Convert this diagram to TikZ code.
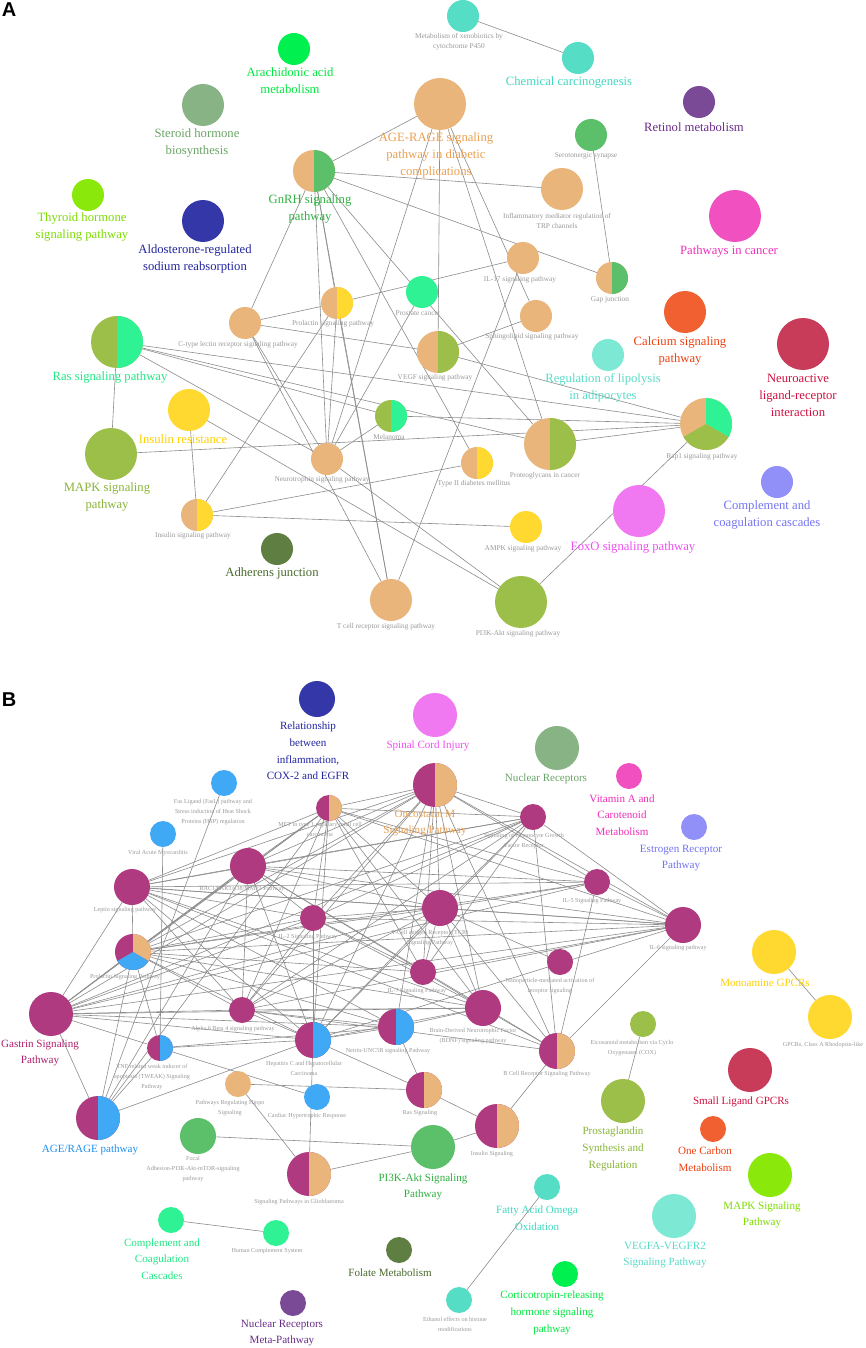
\documentclass[tikz,border=0pt]{standalone}
\usepackage{fontspec}
\setmainfont{Liberation Serif}
\newfontfamily\panelfont{Liberation Sans}
\usetikzlibrary{backgrounds}
% node fills
\definecolor{cTan}{HTML}{E9B57A}
\definecolor{cOlive}{HTML}{9BBF48}
\definecolor{cSpring}{HTML}{2EF294}
\definecolor{cGreen}{HTML}{5CBF6A}
\definecolor{cYellow}{HTML}{FFD92F}
\definecolor{cLime}{HTML}{8BE80B}
\definecolor{cBright}{HTML}{00F050}
\definecolor{cSage}{HTML}{88B384}
\definecolor{cNavy}{HTML}{3437A8}
\definecolor{cTurq}{HTML}{55DDC6}
\definecolor{cAqua}{HTML}{7DE8D4}
\definecolor{cPlum}{HTML}{7B4A96}
\definecolor{cPink}{HTML}{F050C0}
\definecolor{cViolet}{HTML}{F078F0}
\definecolor{cOrange}{HTML}{F06030}
\definecolor{cCrimson}{HTML}{C83C5A}
\definecolor{cPeri}{HTML}{9090F8}
\definecolor{cMoss}{HTML}{5E7E42}
\definecolor{cPurple}{HTML}{B03A80}
\definecolor{cBlue}{HTML}{3FA9F5}
% label colours
\definecolor{tTan}{HTML}{EBA050}
\definecolor{tSpring}{HTML}{20E884}
\definecolor{tGreen}{HTML}{30B040}
\definecolor{tOlive}{HTML}{88B538}
\definecolor{tYellow}{HTML}{FFD000}
\definecolor{tLime}{HTML}{7EDC00}
\definecolor{tBright}{HTML}{00E840}
\definecolor{tSage}{HTML}{6AA466}
\definecolor{tNavy}{HTML}{2225A0}
\definecolor{tTurq}{HTML}{40D8C0}
\definecolor{tAqua}{HTML}{58DCC8}
\definecolor{tPlum}{HTML}{6A2C8A}
\definecolor{tPink}{HTML}{F030B8}
\definecolor{tViolet}{HTML}{F050F0}
\definecolor{tOrange}{HTML}{F04010}
\definecolor{tCrimson}{HTML}{D01040}
\definecolor{tPeri}{HTML}{7474F2}
\definecolor{tMoss}{HTML}{4B6B2E}
\definecolor{tPurple}{HTML}{B0206E}
\definecolor{tBlue}{HTML}{2090F0}
\definecolor{gLabel}{HTML}{999999}
\definecolor{gEdge}{HTML}{8C8C8C}
% slice of a pie node: name, start, end, radius, colour
\newcommand{\pieslice}[5]{\fill[#5] (#1.center) -- ++(#2:#4) arc[start angle=#2, end angle=#3, radius=#4] -- cycle;}

\begin{document}
\begin{tikzpicture}[x=0.75pt, y=-0.75pt]
        % Styles
        \tikzstyle{pw} = [circle, inner sep=0pt, outer sep=0pt, draw=none]
        \tikzstyle{pwS} = [pw, minimum size=24pt]
        \tikzstyle{pwM} = [pw, minimum size=31.5pt]
        \tikzstyle{pwL} = [pw, minimum size=39pt]
        \tikzstyle{pwXS} = [pw, minimum size=19.5pt]
        \tikzstyle{pwBM} = [pw, minimum size=27pt]
        \tikzstyle{pwBL} = [pw, minimum size=33pt]
        \tikzstyle{lblA} = [align=center, inner sep=0pt, font=\fontsize{9.5}{12.75}\selectfont]
        \tikzstyle{smallA} = [align=center, inner sep=0pt, text=gLabel, font=\fontsize{5.5}{7.5}\selectfont]
        \tikzstyle{lblB} = [align=center, inner sep=0pt, font=\fontsize{8.3}{12.5}\selectfont]
        \tikzstyle{smallB} = [align=center, inner sep=0pt, text=gLabel, font=\fontsize{4.6}{7.5}\selectfont]
        \tikzstyle{edge} = [draw=gEdge, line width=0.45pt]
        \tikzstyle{panel} = [inner sep=0pt, font=\panelfont\fontsize{15}{15}\bfseries\selectfont]

        \useasboundingbox (0,0) rectangle (865,1348);

        % Panel A
        \node[panel] (pA) at (9,10) {A};

        \node[pwS, fill=cBright] (arach) at (294,49) {};
        \node[lblA, text=tBright] (t-arach) at (290,81) {Arachidonic acid\\metabolism};
        \node[pwM, fill=cSage] (steroid) at (203,105) {};
        \node[lblA, text=tSage] (t-steroid) at (197,143) {Steroid hormone\\biosynthesis};
        \node[pwS, fill=cLime] (thyroid) at (88,195) {};
        \node[lblA, text=tLime] (t-thyroid) at (82,227) {Thyroid hormone\\signaling pathway};
        \node[pwM, fill=cNavy] (aldo) at (203,221) {};
        \node[lblA, text=tNavy] (t-aldo) at (195,259) {Aldosterone-regulated\\sodium reabsorption};
        \node[pwM, fill=cTan] (gnrh) at (314,171) {};
        \pieslice{gnrh}{90}{-90}{15.75pt}{cGreen}
        \node[lblA, text=tGreen] (t-gnrh) at (310,209) {GnRH signaling\\pathway};
        \node[pwL, fill=cTan] (agerage) at (440,104) {};
        \node[lblA, text=tTan] (t-agerage) at (436,155) {AGE-RAGE signaling\\pathway in diabetic\\complications};
        \node[pwS, fill=cTurq] (xeno) at (463,16) {};
        \node[smallA] (t-xeno) at (459,42) {Metabolism of xenobiotics by\\cytochrome P450};
        \node[pwS, fill=cTurq] (chem) at (578,58) {};
        \node[lblA, text=tTurq] (t-chem) at (569,82) {Chemical carcinogenesis};
        \node[pwS, fill=cPlum] (retinol) at (699,102) {};
        \node[lblA, text=tPlum] (t-retinol) at (694,127) {Retinol metabolism};
        \node[pwS, fill=cGreen] (sero) at (591,135) {};
        \node[smallA] (t-sero) at (586,156) {Serotonergic synapse};
        \node[pwM, fill=cTan] (inflam) at (562,189) {};
        \node[smallA] (t-inflam) at (557,221) {Inflammatory mediator regulation of\\TRP channels};
        \node[pwL, fill=cPink] (cancer) at (735,216) {};
        \node[lblA, text=tPink] (t-cancer) at (729,251) {Pathways in cancer};
        \node[pwS, fill=cTan] (il17) at (523,258) {};
        \node[smallA] (t-il17) at (520,280) {IL-17 signaling pathway};
        \node[pwS, fill=cTan] (gap) at (612,278) {};
        \pieslice{gap}{90}{-90}{12pt}{cGreen}
        \node[smallA] (t-gap) at (610,300) {Gap junction};
        \node[pwS, fill=cTan] (sphingo) at (536,316) {};
        \node[smallA] (t-sphingo) at (532,337) {Sphingolipid signaling pathway};
        \node[pwM, fill=cOrange] (calcium) at (685,312) {};
        \node[lblA, text=tOrange] (t-calcium) at (680,351) {Calcium signaling\\pathway};
        \node[pwL, fill=cCrimson] (neuro) at (803,344) {};
        \node[lblA, text=tCrimson] (t-neuro) at (798,395) {Neuroactive\\ligand-receptor\\interaction};
        \node[pwS, fill=cAqua] (lipo) at (608,355) {};
        \node[lblA, text=tAqua] (t-lipo) at (603,388) {Regulation of lipolysis\\in adipocytes};
        \node[pwS, fill=cSpring] (prostate) at (422,292) {};
        \node[smallA] (t-prostate) at (418,313) {Prostate cancer};
        \node[pwS, fill=cTan] (prolactin) at (337,303) {};
        \pieslice{prolactin}{90}{-90}{12pt}{cYellow}
        \node[smallA] (t-prolactin) at (333,324) {Prolactin signaling pathway};
        \node[pwS, fill=cTan] (ctype) at (245,323) {};
        \node[smallA] (t-ctype) at (238,345) {C-type lectin receptor signaling pathway};
        \node[pwM, fill=cTan] (vegf) at (438,352) {};
        \pieslice{vegf}{90}{-90}{15.75pt}{cOlive}
        \node[smallA] (t-vegf) at (435,378) {VEGF signaling pathway};
        \node[pwL, fill=cOlive] (ras) at (117,342) {};
        \pieslice{ras}{90}{-90}{19.5pt}{cSpring}
        \node[lblA, text=tSpring] (t-ras) at (110,377) {Ras signaling pathway};
        \node[pwM, fill=cYellow] (insres) at (189,410) {};
        \node[lblA, text=tYellow] (t-insres) at (183,439) {Insulin resistance};
        \node[pwS, fill=cOlive] (melanoma) at (391,416) {};
        \pieslice{melanoma}{90}{-90}{12pt}{cSpring}
        \node[smallA] (t-melanoma) at (389,437) {Melanoma};
        \node[pwL, fill=cOlive] (mapk) at (111,454) {};
        \node[lblA, text=tOlive] (t-mapk) at (107,497) {MAPK signaling\\pathway};
        \node[pwS, fill=cTan] (neurotro) at (327,459) {};
        \node[smallA] (t-neurotro) at (322,480) {Neurotrophin signaling pathway};
        \node[pwL, fill=cTan] (proteo) at (550,444) {};
        \pieslice{proteo}{90}{-90}{19.5pt}{cOlive}
        \node[smallA] (t-proteo) at (545,476) {Proteoglycans in cancer};
        \node[pwL, fill=cTan] (rap1) at (706,424) {};
        \pieslice{rap1}{90}{-30}{19.5pt}{cSpring}
        \pieslice{rap1}{-30}{-150}{19.5pt}{cOlive}
        \node[smallA] (t-rap1) at (702,457) {Rap1 signaling pathway};
        \node[pwS, fill=cTan] (t2d) at (477,463) {};
        \pieslice{t2d}{90}{-90}{12pt}{cYellow}
        \node[smallA] (t-t2d) at (474,484) {Type II diabetes mellitus};
        \node[pwS, fill=cTan] (inssig) at (197,515) {};
        \pieslice{inssig}{90}{-90}{12pt}{cYellow}
        \node[smallA] (t-inssig) at (193,536) {Insulin signaling pathway};
        \node[pwS, fill=cMoss] (adherens) at (277,549) {};
        \node[lblA, text=tMoss] (t-adherens) at (272,573) {Adherens junction};
        \node[pwS, fill=cYellow] (ampk) at (526,527) {};
        \node[smallA] (t-ampk) at (523,549) {AMPK signaling pathway};
        \node[pwL, fill=cViolet] (foxo) at (639,511) {};
        \node[lblA, text=tViolet] (t-foxo) at (633,547) {FoxO signaling pathway};
        \node[pwS, fill=cPeri] (compl) at (777,482) {};
        \node[lblA, text=tPeri] (t-compl) at (767,515) {Complement and\\coagulation cascades};
        \node[pwM, fill=cTan] (tcell) at (391,600) {};
        \node[smallA] (t-tcell) at (386,627) {T cell receptor signaling pathway};
        \node[pwL, fill=cOlive] (pi3k) at (521,602) {};
        \node[smallA] (t-pi3k) at (518,634) {PI3K-Akt signaling pathway};

        % Panel B
        \node[panel] (pB) at (9,700) {B};

        \node[pwBM, fill=cNavy] (brel) at (317,699) {};
        \node[lblB, text=tNavy] (t-brel) at (308,751) {Relationship\\between\\inflammation,\\COX-2 and EGFR};
        \node[pwBL, fill=cViolet] (bspinal) at (435,715) {};
        \node[lblB, text=tViolet] (t-bspinal) at (428,746) {Spinal Cord Injury};
        \node[pwBL, fill=cSage] (bnuc) at (557,748) {};
        \node[lblB, text=tSage] (t-bnuc) at (546,779) {Nuclear Receptors};
        \node[pwXS, fill=cPink] (bvita) at (629,776) {};
        \node[lblB, text=tPink] (t-bvita) at (622,815) {Vitamin A and\\Carotenoid\\Metabolism};
        \node[pwXS, fill=cPeri] (bestro) at (694,827) {};
        \node[lblB, text=tPeri] (t-bestro) at (681,858) {Estrogen Receptor\\Pathway};
        \node[pwBL, fill=cPurple] (bonco) at (435,785) {};
        \pieslice{bonco}{90}{-90}{16.5pt}{cTan}
        \node[lblB, text=tTan] (t-bonco) at (425,823) {Oncostatin M\\Signaling Pathway};
        \node[pwXS, fill=cPurple] (bmet) at (329,808) {};
        \pieslice{bmet}{90}{-90}{9.75pt}{cTan}
        \node[smallB] (t-bmet) at (320,829) {MET in type 1 papillary renal cell\\carcinoma};
        \node[pwXS, fill=cBlue] (bfasl) at (224,783) {};
        \node[smallB] (t-bfasl) at (213,812) {Fas Ligand (FasL) pathway and\\Stress induction of Heat Shock\\Proteins (HSP) regulation};
        \node[pwXS, fill=cBlue] (bviral) at (163,834) {};
        \node[smallB] (t-bviral) at (158,853) {Viral Acute Myocarditis};
        \node[pwXS, fill=cPurple] (bhgf) at (533,817) {};
        \node[smallB] (t-bhgf) at (524,841) {Signaling of Hepatocyte Growth\\Factor Receptor};
        \node[pwBM, fill=cPurple] (brac) at (248,866) {};
        \node[smallB] (t-brac) at (242,889) {RAC1/PAK1/p38/MMP2 Pathway};
        \node[pwBM, fill=cPurple] (bleptin) at (132,887) {};
        \node[smallB] (t-bleptin) at (125,910) {Leptin signaling pathway};
        \node[pwXS, fill=cPurple] (bil2) at (313,918) {};
        \node[smallB] (t-bil2) at (308,937) {IL-2 Signaling Pathway};
        \node[pwBM, fill=cPurple] (btcr) at (440,908) {};
        \node[smallB] (t-btcr) at (430,938) {T-Cell antigen Receptor (TCR)\\Signaling Pathway};
        \node[pwXS, fill=cPurple] (bil5) at (597,882) {};
        \node[smallB] (t-bil5) at (592,901) {IL-5 Signaling Pathway};
        \node[pwBM, fill=cPurple] (bil6) at (683,925) {};
        \node[smallB] (t-bil6) at (678,948) {IL-6 signaling pathway};
        \node[pwBM, fill=cPurple] (bprl) at (133,952) {};
        \pieslice{bprl}{90}{-30}{13.5pt}{cTan}
        \pieslice{bprl}{-30}{-150}{13.5pt}{cBlue}
        \node[smallB] (t-bprl) at (125,977) {Prolactin Signaling Pathway};
        \node[pwXS, fill=cPurple] (bnano) at (560,962) {};
        \node[smallB] (t-bnano) at (550,986) {Nanoparticle-mediated activation of\\receptor signaling};
        \node[pwXS, fill=cPurple] (bil7) at (423,972) {};
        \node[smallB] (t-bil7) at (417,991) {IL-7 Signaling Pathway};
        \node[pwBL, fill=cYellow] (bmono) at (774,952) {};
        \node[lblB, text=tYellow] (t-bmono) at (765,983) {Monoamine GPCRs};
        \node[pwBL, fill=cYellow] (bgpcra) at (830,1017) {};
        \node[smallB] (t-bgpcra) at (823,1045) {GPCRs, Class A Rhodopsin-like};
        \node[pwBL, fill=cPurple] (bgastrin) at (51,1014) {};
        \node[lblB, text=tPurple] (t-bgastrin) at (40,1053) {Gastrin Signaling\\Pathway};
        \node[pwXS, fill=cPurple] (ba6b4) at (242,1010) {};
        \node[smallB] (t-ba6b4) at (233,1029) {Alpha 6 Beta 4 signaling pathway};
        \node[pwBM, fill=cPurple] (bbdnf) at (483,1008) {};
        \node[smallB] (t-bbdnf) at (473,1036) {Brain-Derived Neurotrophic Factor\\(BDNF) signaling pathway};
        \node[pwBM, fill=cPurple] (bnetrin) at (396,1027) {};
        \pieslice{bnetrin}{90}{-90}{13.5pt}{cBlue}
        \node[smallB] (t-bnetrin) at (388,1051) {Netrin-UNC5B signaling Pathway};
        \node[pwBM, fill=cPurple] (bhepc) at (313,1040) {};
        \pieslice{bhepc}{90}{-90}{13.5pt}{cBlue}
        \node[smallB] (t-bhepc) at (304,1068) {Hepatitis C and Hepatocellular\\Carcinoma};
        \node[pwXS, fill=cPurple] (btweak) at (160,1048) {};
        \pieslice{btweak}{90}{-90}{9.75pt}{cBlue}
        \node[smallB] (t-btweak) at (152,1077) {TNF related weak inducer of\\apoptosis (TWEAK) Signaling\\Pathway};
        \node[pwBM, fill=cPurple] (bbcell) at (557,1051) {};
        \pieslice{bbcell}{90}{-90}{13.5pt}{cTan}
        \node[smallB] (t-bbcell) at (547,1074) {B Cell Receptor Signaling Pathway};
        \node[pwXS, fill=cOlive] (beico) at (643,1024) {};
        \node[smallB] (t-beico) at (632,1048) {Eicosanoid metabolism via Cyclo\\Oxygenases (COX)};
        \node[pwBL, fill=cPurple] (bagerage) at (98,1118) {};
        \pieslice{bagerage}{90}{-90}{16.5pt}{cBlue}
        \node[lblB, text=tBlue] (t-bagerage) at (90,1150) {AGE/RAGE pathway};
        \node[pwXS, fill=cTan] (bhippo) at (238,1084) {};
        \node[smallB] (t-bhippo) at (230,1108) {Pathways Regulating Hippo\\Signaling};
        \node[pwXS, fill=cBlue] (bcardiac) at (317,1097) {};
        \node[smallB] (t-bcardiac) at (307,1116) {Cardiac Hypertrophic Response};
        \node[pwBM, fill=cPurple] (brassig) at (424,1090) {};
        \pieslice{brassig}{90}{-90}{13.5pt}{cTan}
        \node[smallB] (t-brassig) at (420,1113) {Ras Signaling};
        \node[pwBL, fill=cPurple] (binsulin) at (497,1126) {};
        \pieslice{binsulin}{90}{-90}{16.5pt}{cTan}
        \node[smallB] (t-binsulin) at (492,1154) {Insulin Signaling};
        \node[pwBM, fill=cGreen] (bfocal) at (198,1136) {};
        \node[smallB] (t-bfocal) at (193,1169) {Focal\\Adhesion-PI3K-Akt-mTOR-signaling\\pathway};
        \node[pwBL, fill=cGreen] (bpi3k) at (433,1147) {};
        \node[lblB, text=tGreen] (t-bpi3k) at (423,1187) {PI3K-Akt Signaling\\Pathway};
        \node[pwBL, fill=cPurple] (bglio) at (309,1174) {};
        \pieslice{bglio}{90}{-90}{16.5pt}{cTan}
        \node[smallB] (t-bglio) at (299,1202) {Signaling Pathways in Glioblastoma};
        \node[pwBL, fill=cOlive] (bprosta) at (623,1101) {};
        \node[lblB, text=tOlive] (t-bprosta) at (613,1149) {Prostaglandin\\Synthesis and\\Regulation};
        \node[pwBL, fill=cCrimson] (bsmall) at (750,1070) {};
        \node[lblB, text=tCrimson] (t-bsmall) at (741,1102) {Small Ligand GPCRs};
        \node[pwXS, fill=cOrange] (bcarbon) at (713,1129) {};
        \node[lblB, text=tOrange] (t-bcarbon) at (705,1159) {One Carbon\\Metabolism};
        \node[pwBL, fill=cLime] (bmapk) at (770,1175) {};
        \node[lblB, text=tLime] (t-bmapk) at (762,1215) {MAPK Signaling\\Pathway};
        \node[pwXS, fill=cTurq] (bfatty) at (547,1187) {};
        \node[lblB, text=tTurq] (t-bfatty) at (537,1218) {Fatty Acid Omega\\Oxidation};
        \node[pwBL, fill=cAqua] (bvegfa) at (674,1216) {};
        \node[lblB, text=tAqua] (t-bvegfa) at (665,1255) {VEGFA-VEGFR2\\Signaling Pathway};
        \node[pwXS, fill=cSpring] (bcompl) at (171,1220) {};
        \node[lblB, text=tSpring] (t-bcompl) at (162,1259) {Complement and\\Coagulation\\Cascades};
        \node[pwXS, fill=cSpring] (bhuman) at (276,1233) {};
        \node[smallB] (t-bhuman) at (267,1251) {Human Complement System};
        \node[pwXS, fill=cMoss] (bfolate) at (399,1250) {};
        \node[lblB, text=tMoss] (t-bfolate) at (390,1273) {Folate Metabolism};
        \node[pwXS, fill=cBright] (bcrh) at (565,1274) {};
        \node[lblB, text=tBright] (t-bcrh) at (552,1313) {Corticotropin-releasing\\hormone signaling\\pathway};
        \node[pwXS, fill=cTurq] (bethanol) at (459,1300) {};
        \node[smallB] (t-bethanol) at (455,1324) {Ethanol effects on histone\\modifications};
        \node[pwXS, fill=cPlum] (bnrmeta) at (293,1303) {};
        \node[lblB, text=tPlum] (t-bnrmeta) at (282,1333) {Nuclear Receptors\\Meta-Pathway};

        % Edges
        \begin{pgfonlayer}{background}
        \fill[white] (0,0) rectangle (865,1348);
        \foreach \a/\b in {xeno/chem, sero/gap, gnrh/agerage, gnrh/inflam, gnrh/gap, gnrh/ctype,
            gnrh/prolactin, gnrh/neurotro, gnrh/tcell, gnrh/proteo, gnrh/t2d, agerage/vegf,
            agerage/sphingo, agerage/proteo, agerage/neurotro, il17/prolactin, il17/tcell,
            sphingo/vegf, prolactin/ctype, prolactin/neurotro, prolactin/tcell, prolactin/inssig,
            ctype/vegf, ctype/neurotro, ctype/tcell, ras/mapk, ras/melanoma, ras/rap1,
            ras/neurotro, ras/proteo, insres/inssig, insres/pi3k, mapk/rap1, inssig/t2d,
            inssig/ampk, neurotro/melanoma, neurotro/prostate, neurotro/pi3k, melanoma/rap1,
            vegf/rap1, proteo/rap1, pi3k/rap1}
            \draw[edge] (\a) -- (\b);
        \foreach \a/\b in {bonco/bmet, bonco/bhgf, bonco/brac, bonco/bleptin, bonco/bil2, bonco/btcr,
            bonco/bil5, bonco/bil6, bonco/bprl, bonco/bil7, bonco/bbdnf, bonco/bnetrin, bonco/bhepc,
            bonco/ba6b4, bonco/bbcell, bonco/bgastrin,
            bmet/bhgf, bmet/brac, bmet/bleptin, bmet/bil2, bmet/btcr, bmet/bil5, bmet/bil6, bmet/bprl,
            bmet/ba6b4, bmet/bhepc, bmet/bbdnf, bmet/bgastrin, bmet/bil7, bmet/bagerage,
            bhgf/brac, bhgf/bleptin, bhgf/bil2, bhgf/btcr, bhgf/bil6, bhgf/bprl, bhgf/ba6b4,
            bhgf/bhepc, bhgf/bil7, bhgf/bgastrin, bhgf/bbcell,
            brac/bleptin, brac/bil2, brac/btcr, brac/bil5, brac/bil6, brac/bprl, brac/ba6b4,
            brac/bhepc, brac/bbdnf, brac/bbcell, brac/bgastrin, brac/bagerage,
            bleptin/bil2, bleptin/btcr, bleptin/bil5, bleptin/bil6, bleptin/bprl, bleptin/ba6b4,
            bleptin/bhepc, bleptin/bbdnf, bleptin/bnetrin, bleptin/bbcell, bleptin/bgastrin,
            bil2/btcr, bil2/bil6, bil2/bprl, bil2/ba6b4, bil2/bhepc, bil2/bbdnf, bil2/bil7, bil2/bgastrin,
            btcr/bil5, btcr/bil6, btcr/bprl, btcr/ba6b4, btcr/bhepc, btcr/bbdnf, btcr/bbcell,
            btcr/bgastrin, btcr/bil7, btcr/bnano,
            bil5/bil6, bil5/bprl, bil5/bgastrin, bil5/bbcell,
            bil6/bprl, bil6/bgastrin, bil6/bbcell, bil6/ba6b4, bil6/bhepc, bil6/bil7,
            bprl/ba6b4, bprl/bhepc, bprl/bbdnf, bprl/bagerage, bprl/bgastrin, bprl/btweak,
            bprl/bnetrin, bprl/bil7,
            bgastrin/ba6b4, bgastrin/bhepc, bgastrin/bbdnf, bgastrin/bnetrin, bgastrin/bagerage,
            bgastrin/btweak,
            ba6b4/bhepc, ba6b4/bbdnf, ba6b4/bnetrin, ba6b4/bbcell,
            bbdnf/bhepc, bbdnf/bnetrin, bbdnf/bbcell,
            bnetrin/bhepc, bnetrin/brassig, bnetrin/btweak,
            bhepc/btweak, bhepc/brassig, bhepc/bagerage, bhepc/bglio,
            btweak/bagerage, btweak/bcardiac, bhippo/brassig, bhippo/bglio,
            bfocal/bpi3k, bglio/bpi3k, bpi3k/binsulin, binsulin/bbcell, binsulin/brassig,
            bfasl/bagerage, bviral/btweak, bmono/bgpcra, beico/bprosta, bcompl/bhuman,
            bethanol/bfatty}
            \draw[edge] (\a) -- (\b);
        \end{pgfonlayer}

\end{tikzpicture}
\end{document}
